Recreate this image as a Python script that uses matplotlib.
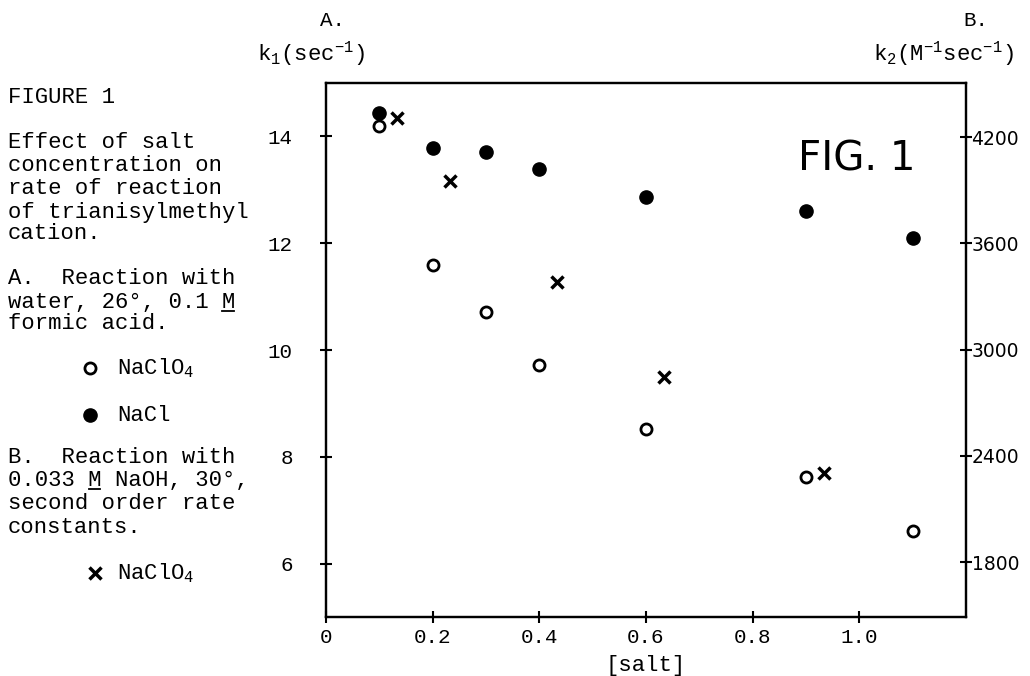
"""
Fig. 1 - efeito da concentracao de sal na velocidade de reacao
"""

import matplotlib
matplotlib.use("Agg")
import matplotlib.pyplot as plt
from matplotlib.lines import Line2D


# DADOS
# ──────────────────────────────────────────────────────────────
SALT_NACL = [0.1, 0.2, 0.3, 0.4, 0.6, 0.9, 1.1]
K1_NACL = [14.43, 13.79, 13.70, 13.39, 12.87, 12.60, 12.10]

SALT_NACLO4 = [0.1, 0.2, 0.3, 0.4, 0.6, 0.9, 1.1]
K1_NACLO4 = [14.20, 11.60, 10.71, 9.72, 8.52, 7.63, 6.61]

# B: NaOH 0.033 M somado ao sal
SALT_NAOH = [0.133, 0.233, 0.433, 0.633, 0.933]
K2_NACLO4 = [4306, 3952, 3383, 2847, 2301]

X_TICKS = [0, 0.2, 0.4, 0.6, 0.8, 1.0]
X_TICK_LABELS = ["0", "0.2", "0.4", "0.6", "0.8", "1.0"]
Y1_TICKS = [6, 8, 10, 12, 14]
Y2_TICKS = [1800, 2400, 3000, 3600, 4200]

# CONFIGURAÇÃO
# ──────────────────────────────────────────────────────────────
W, H = 1030, 676
MONO = "Liberation Mono"
SANS = "DejaVu Sans"
FS_TXT = 16
CHAR_W = FS_TXT * 0.6 * 100 / 72   # largura de um caractere mono (px)
plt.rcParams["mathtext.default"] = "regular"


def fx(px):
    return px / W


def fy(py):
    return 1 - py / H


def sublinhar(x0, y, idx):
    # sublinha o caractere de indice idx numa linha mono iniciada em x0
    xa = x0 + idx * CHAR_W
    fig.add_artist(Line2D([fx(xa + 1), fx(xa + CHAR_W - 1)], [fy(y), fy(y)],
                          transform=fig.transFigure, color="black", lw=1.3))


fig = plt.figure(figsize=(W / 100, H / 100), dpi=100)
ax = fig.add_axes([fx(326), fy(617), fx(966) - fx(326), fy(83) - fy(617)])
ax2 = ax.twinx()

# ── Séries ─────────────────────────────────────────────────
ax.plot(SALT_NACL, K1_NACL, "o", color="black", ms=9.5, ls="none", zorder=3)
ax.plot(SALT_NACLO4, K1_NACLO4, "o", mfc="white", mec="black", mew=2,
        ms=8, ls="none", zorder=4)
ax2.plot(SALT_NAOH, K2_NACLO4, "x", color="black", mew=2.5, ms=8, ls="none")

ax.set_xlim(0, 1.2)
ax.set_ylim(5, 15)
ax2.set_ylim(1490, 4505)

ax.set_xticks(X_TICKS)
ax.set_xticklabels(X_TICK_LABELS, family=MONO, fontsize=15)
ax.set_yticks(Y1_TICKS)
ax.set_yticklabels([str(v) for v in Y1_TICKS], family=MONO, fontsize=15)
ax2.set_yticks(Y2_TICKS)
ax2.set_yticklabels([str(v) for v in Y2_TICKS], family=SANS, fontsize=13.5)

ax.tick_params(axis="x", direction="inout", length=8, width=1.5, pad=4)
ax.tick_params(axis="y", direction="inout", length=8, width=1.5, pad=20)
ax2.tick_params(axis="y", direction="inout", length=8, width=1.5, pad=0)

for a in (ax, ax2):
    for s in a.spines.values():
        s.set_linewidth(1.6)

ax.set_xlabel("[salt]", family=MONO, fontsize=FS_TXT, labelpad=6)

# ── Rótulos dos eixos ──────────────────────────────────────
fig.text(fx(320), fy(26), "A.", family=MONO, fontsize=15, va="baseline")
fig.text(fx(257), fy(60), "k$_1$(sec$^{-1}$)", family=MONO, fontsize=FS_TXT,
         va="baseline")
fig.text(fx(963), fy(26), "B.", family=MONO, fontsize=15, va="baseline")
fig.text(fx(873), fy(60), "k$_2$(M$^{-1}$sec$^{-1}$)", family=MONO,
         fontsize=FS_TXT, va="baseline")

ax.text(0.83, 0.857, "FIG. 1", transform=ax.transAxes, family=SANS,
        fontsize=29, fontweight="normal", ha="center", va="center")

# ── Texto da legenda (lado esquerdo) ───────────────────────
linhas = [
    (8, 103, "FIGURE 1"),
    (8, 148, "Effect of salt"),
    (8, 171, "concentration on"),
    (8, 194, "rate of reaction"),
    (8, 218, "of trianisylmethyl"),
    (8, 239, "cation."),
    (8, 284, "A.  Reaction with"),
    (8, 308, "water, 26°, 0.1 M"),
    (8, 329, "formic acid."),
    (117, 374, "NaClO$_4$"),
    (117, 421, "NaCl"),
    (8, 463, "B.  Reaction with"),
    (8, 486, "0.033 M NaOH, 30°,"),
    (8, 509, "second order rate"),
    (8, 533, "constants."),
    (117, 579, "NaClO$_4$"),
]
for x, y, txt in linhas:
    fig.text(fx(x), fy(y), txt, family=MONO, fontsize=FS_TXT, va="baseline")

sublinhar(8, 311, 16)
sublinhar(8, 489, 6)

fig.add_artist(Line2D([fx(90)], [fy(368)], transform=fig.transFigure,
                      marker="o", mfc="white", mec="black", mew=2, ms=8))
fig.add_artist(Line2D([fx(90)], [fy(415)], transform=fig.transFigure,
                      marker="o", color="black", ms=9.5))
fig.add_artist(Line2D([fx(95)], [fy(573)], transform=fig.transFigure,
                      marker="x", color="black", mew=2.5, ms=8))

plt.savefig("out.png", dpi=100)
plt.close()
